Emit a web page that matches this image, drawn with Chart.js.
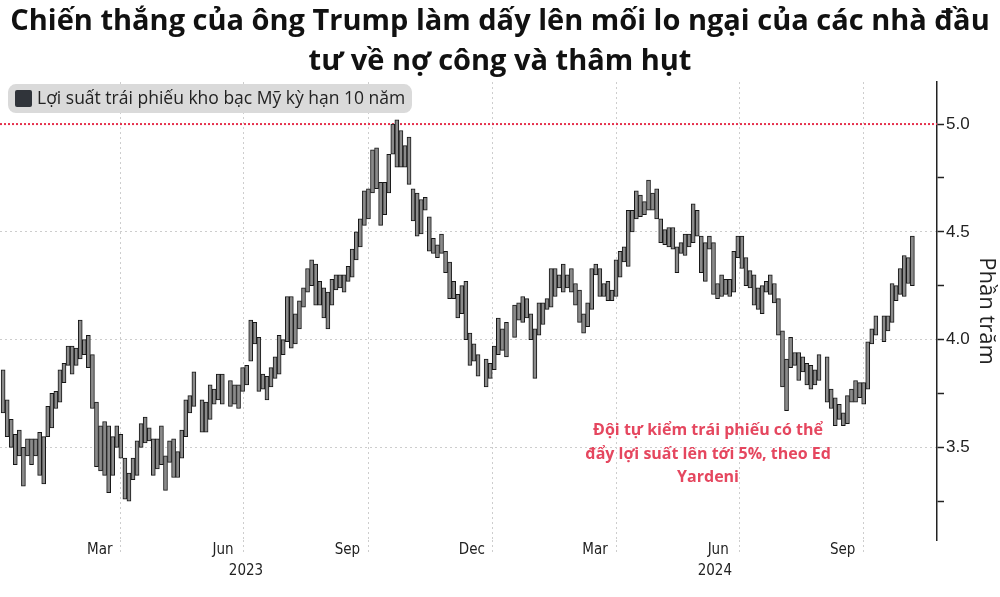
<!DOCTYPE html>
<html lang="vi">
<head>
<meta charset="utf-8">
<title>Lợi suất trái phiếu kho bạc Mỹ kỳ hạn 10 năm</title>
<script src="https://cdn.jsdelivr.net/npm/chart.js@4.4.1/dist/chart.umd.min.js"></script>
<style>
  html, body { margin: 0; padding: 0; background: #fff; }
  #wrap { width: 1000px; height: 597px; position: relative; }
</style>
</head>
<body>
<div id="wrap"><canvas id="chart"></canvas></div>
<script>
// Lợi suất 10 năm, mỗi thanh gom 3 ngày lịch (thấp nhất / cao nhất), bắt đầu 3/1/2023
const barStartDay = 3;      // ngày thứ 3 tính từ 1/1/2023
const barStepDays = 3;
const yieldLow = [
  3.66, 3.55, 3.50, 3.42, 3.46, 3.32, 3.46, 3.42, 3.46, 3.37,
  3.33, 3.55, 3.59, 3.68, 3.71, 3.80, 3.88, 3.84, 3.88, 3.91,
  3.93, 3.87, 3.68, 3.41, 3.39, 3.37, 3.29, 3.37, 3.50, 3.45,
  3.26, 3.25, 3.35, 3.37, 3.50, 3.52, 3.53, 3.37, 3.40, 3.42,
  3.30, 3.43, 3.36, 3.36, 3.45, 3.55, 3.66, 3.69, null, 3.57,
  3.57, 3.63, 3.70, 3.72, 3.70, null, 3.69, 3.70, 3.68, 3.76,
  3.79, 3.90, 3.98, 3.76, 3.77, 3.72, 3.78, 3.82, 3.84, 3.93,
  3.99, 3.96, 3.98, 4.05, 4.15, 4.22, 4.25, 4.16, 4.16, 4.10,
  4.05, 4.16, 4.23, 4.24, 4.22, 4.27, 4.29, 4.37, 4.43, 4.53,
  4.56, 4.68, 4.70, 4.53, 4.58, 4.68, 4.86, 4.80, 4.80, 4.80,
  4.72, 4.55, 4.48, 4.49, 4.60, 4.41, 4.40, 4.38, 4.40, 4.31,
  4.19, 4.19, 4.10, 4.12, 4.00, 3.88, 3.90, 3.83, null, 3.78,
  3.82, 3.86, 3.93, 3.95, 3.92, null, 4.01, 4.09, 4.08, 4.10,
  4.00, 3.82, 4.02, 4.07, 4.14, 4.15, 4.20, 4.24, 4.22, 4.24,
  4.22, 4.16, 4.08, 4.03, 4.06, 4.14, 4.30, 4.20, 4.20, 4.18,
  4.18, 4.20, 4.29, 4.36, 4.34, 4.50, 4.56, 4.57, 4.58, 4.60,
  4.60, 4.56, 4.45, 4.44, 4.43, 4.42, 4.31, 4.40, 4.39, 4.43,
  4.45, 4.48, 4.31, 4.27, 4.42, 4.21, 4.19, 4.20, 4.21, 4.20,
  4.22, 4.38, 4.33, 4.25, 4.24, 4.16, 4.14, 4.12, 4.22, 4.21,
  4.17, 4.02, 3.78, 3.67, 3.87, 3.88, 3.81, 3.85, 3.79, 3.77,
  3.79, 3.81, null, 3.71, 3.68, 3.60, 3.63, 3.60, 3.61, 3.71,
  3.71, 3.73, 3.70, 3.77, 3.98, 4.02, null, 3.99, 4.04, 4.08,
  4.18, 4.21, 4.20, 4.26, 4.25
];
const yieldHigh = [
  3.86, 3.72, 3.63, 3.56, 3.58, 3.50, 3.54, 3.54, 3.54, 3.57,
  3.55, 3.69, 3.75, 3.76, 3.86, 3.89, 3.97, 3.97, 3.96, 4.09,
  4.00, 4.02, 3.93, 3.71, 3.60, 3.62, 3.60, 3.55, 3.60, 3.56,
  3.45, 3.38, 3.45, 3.53, 3.61, 3.64, 3.59, 3.54, 3.54, 3.60,
  3.46, 3.53, 3.54, 3.48, 3.58, 3.72, 3.74, 3.85, null, 3.72,
  3.71, 3.79, 3.77, 3.84, 3.84, null, 3.81, 3.79, 3.79, 3.87,
  3.88, 4.09, 4.08, 4.01, 3.84, 3.83, 3.87, 3.92, 4.02, 4.00,
  4.20, 4.20, 4.12, 4.18, 4.24, 4.33, 4.37, 4.35, 4.27, 4.24,
  4.22, 4.28, 4.30, 4.30, 4.30, 4.34, 4.42, 4.50, 4.56, 4.69,
  4.70, 4.88, 4.89, 4.73, 4.73, 4.86, 5.00, 5.02, 4.97, 4.90,
  4.94, 4.70, 4.68, 4.65, 4.66, 4.57, 4.47, 4.44, 4.49, 4.41,
  4.36, 4.27, 4.21, 4.25, 4.27, 4.03, 3.98, 3.93, null, 3.91,
  3.89, 3.97, 4.10, 4.05, 4.08, null, 4.16, 4.17, 4.20, 4.19,
  4.12, 4.05, 4.17, 4.17, 4.19, 4.33, 4.33, 4.30, 4.35, 4.30,
  4.33, 4.26, 4.23, 4.12, 4.17, 4.33, 4.35, 4.33, 4.26, 4.27,
  4.23, 4.37, 4.41, 4.43, 4.60, 4.60, 4.69, 4.67, 4.64, 4.74,
  4.68, 4.70, 4.56, 4.51, 4.52, 4.52, 4.43, 4.45, 4.49, 4.49,
  4.63, 4.60, 4.48, 4.45, 4.48, 4.45, 4.26, 4.30, 4.28, 4.28,
  4.41, 4.48, 4.48, 4.38, 4.32, 4.30, 4.24, 4.25, 4.27, 4.30,
  4.26, 4.19, 4.04, 3.91, 4.01, 3.94, 3.94, 3.92, 3.89, 3.88,
  3.86, 3.93, null, 3.92, 3.77, 3.73, 3.70, 3.66, 3.74, 3.77,
  3.81, 3.80, 3.80, 3.99, 4.05, 4.11, null, 4.11, 4.11, 4.26,
  4.25, 4.33, 4.39, 4.38, 4.48
];

// Trục thời gian (số ngày kể từ 1/1/2023)
const dayMin = 0.7;
const dayMax = 693.2;
const monthTickDays = [90, 181, 273, 365, 456, 547, 639];
const monthLabels = ['Mar', 'Jun', 'Sep', 'Dec', 'Mar', 'Jun', 'Sep'];
const yearTickDays = [182.5, 529];
const yearLabels = ['2023', '2024'];
const yTickValues = [3.25, 3.5, 3.75, 4.0, 4.25, 4.5, 4.75, 5.0];
const targetYield = 5.0;

const titleLines = ['Chiến thắng của ông Trump làm dấy lên mối lo ngại của các nhà đầu', 'tư về nợ công và thâm hụt'];
const legendText = 'Lợi suất trái phiếu kho bạc Mỹ kỳ hạn 10 năm';
const noteLines = ['Đội tự kiểm trái phiếu có thể', 'đẩy lợi suất lên tới 5%, theo Ed', 'Yardeni'];
const noteDay = 524;
const noteYield = 3.578;

const bars = [];
yieldLow.forEach((lo, i) => {
  if (lo === null) return;
  bars.push({ x: barStartDay + i * barStepDays, y: [lo, yieldHigh[i]] });
});

const gridGray = '#cdcdcd';

// hộp chú thích xám bo góc ở góc trên bên trái
const legendBox = {
  id: 'legendBox',
  beforeDatasetsDraw(chart) {
    const { ctx, chartArea } = chart;
    const x = chartArea.left + 8, y = chartArea.top + 2;
    ctx.save();
    ctx.fillStyle = '#dadada';
    ctx.beginPath();
    ctx.roundRect(x, y, 404, 29, 8);
    ctx.fill();
    ctx.fillStyle = '#30343a';
    ctx.beginPath();
    ctx.roundRect(x + 7, y + 6, 17, 17, 2);
    ctx.fill();
    ctx.fillStyle = '#222';
    ctx.font = '17.5px "Open Sans", sans-serif';
    ctx.textBaseline = 'middle';
    ctx.fillText(legendText, x + 29, y + 15);
    ctx.restore();
  }
};

const noteText = {
  id: 'noteText',
  afterDatasetsDraw(chart) {
    const { ctx, scales } = chart;
    const cx = scales.x.getPixelForValue(noteDay);
    const cy = scales.y.getPixelForValue(noteYield);
    ctx.save();
    ctx.fillStyle = '#e5475f';
    ctx.font = 'bold 16px "Open Sans", sans-serif';
    ctx.textAlign = 'center';
    ctx.textBaseline = 'middle';
    noteLines.forEach((t, i) => ctx.fillText(t, cx, cy + i * 23.5));
    ctx.restore();
  }
};

new Chart(document.getElementById('chart'), {
  type: 'bar',
  data: {
    datasets: [
      {
        type: 'line',
        data: [{ x: dayMin, y: targetYield }, { x: dayMax, y: targetYield }],
        borderColor: '#e5304c',
        borderWidth: 2,
        borderDash: [2, 2],
        pointRadius: 0,
        order: 2
      },
      {
        data: bars,
        backgroundColor: '#8a8a8a',
        borderColor: '#161616',
        borderWidth: 1,
        borderSkipped: false,
        barThickness: 4,
        grouped: false,
        order: 1
      }
    ]
  },
  options: {
    responsive: true,
    maintainAspectRatio: false,
    animation: false,
    layout: { padding: 0 },
    plugins: {
      legend: { display: false },
      tooltip: { enabled: false },
      title: {
        display: true,
        text: titleLines,
        color: '#111',
        font: { family: '"Open Sans", sans-serif', size: 29, weight: 'bold', lineHeight: 1.38 },
        padding: { top: 2, bottom: 0 }
      }
    },
    scales: {
      x: {
        type: 'linear',
        position: 'bottom',
        min: dayMin,
        max: dayMax,
        offset: false,
        afterBuildTicks: s => { s.ticks = monthTickDays.map(v => ({ value: v })); },
        afterFit: s => { s.height = 22; },
        ticks: {
          callback: (v, i) => monthLabels[i],
          labelOffset: -21,
          padding: -11,
          maxRotation: 0,
          color: '#222',
          font: { family: '"DejaVu Sans Condensed", "Liberation Sans Narrow", "DejaVu Sans", sans-serif', size: 15 }
        },
        grid: {
          color: gridGray,
          offset: false,
          tickLength: 12,
          tickColor: gridGray,
          tickBorderDash: [2, 3]
        },
        border: { display: false, dash: [2, 3] }
      },
      x2: {
        type: 'linear',
        position: 'bottom',
        weight: 1,
        min: dayMin,
        max: dayMax,
        offset: false,
        afterBuildTicks: s => { s.ticks = yearTickDays.map(v => ({ value: v })); },
        afterFit: s => { s.height = 35; },
        ticks: {
          callback: (v, i) => yearLabels[i],
          padding: 0,
          maxRotation: 0,
          color: '#222',
          font: { family: '"DejaVu Sans Condensed", "Liberation Sans Narrow", "DejaVu Sans", sans-serif', size: 15 }
        },
        grid: { display: false, drawTicks: false },
        border: { display: false }
      },
      y: {
        position: 'right',
        min: 3.07,
        max: 5.195,
        afterBuildTicks: s => { s.ticks = yTickValues.map(v => ({ value: v })); },
        afterFit: s => { s.width = 63; },
        ticks: {
          callback: v => (v % 0.5 === 0 ? v.toFixed(1) : ''),
          padding: 2,
          color: '#222',
          font: { family: '"Liberation Sans", Arial, sans-serif', size: 17 }
        },
        grid: {
          color: c => (c.tick && c.tick.value % 0.5 === 0 && c.tick.value < 5 ? gridGray : 'rgba(0,0,0,0)'),
          tickColor: '#222',
          tickLength: 7,
          tickWidth: 1.5
        },
        border: { display: true, color: '#222', width: 1.5, dash: [2, 3] },
        title: {
          display: true,
          text: 'Phần trăm',
          color: '#222',
          font: { family: '"Open Sans", sans-serif', size: 22 },
          padding: { top: 1, bottom: 0 }
        }
      }
    }
  },
  plugins: [legendBox, noteText]
});
</script>
</body>
</html>
